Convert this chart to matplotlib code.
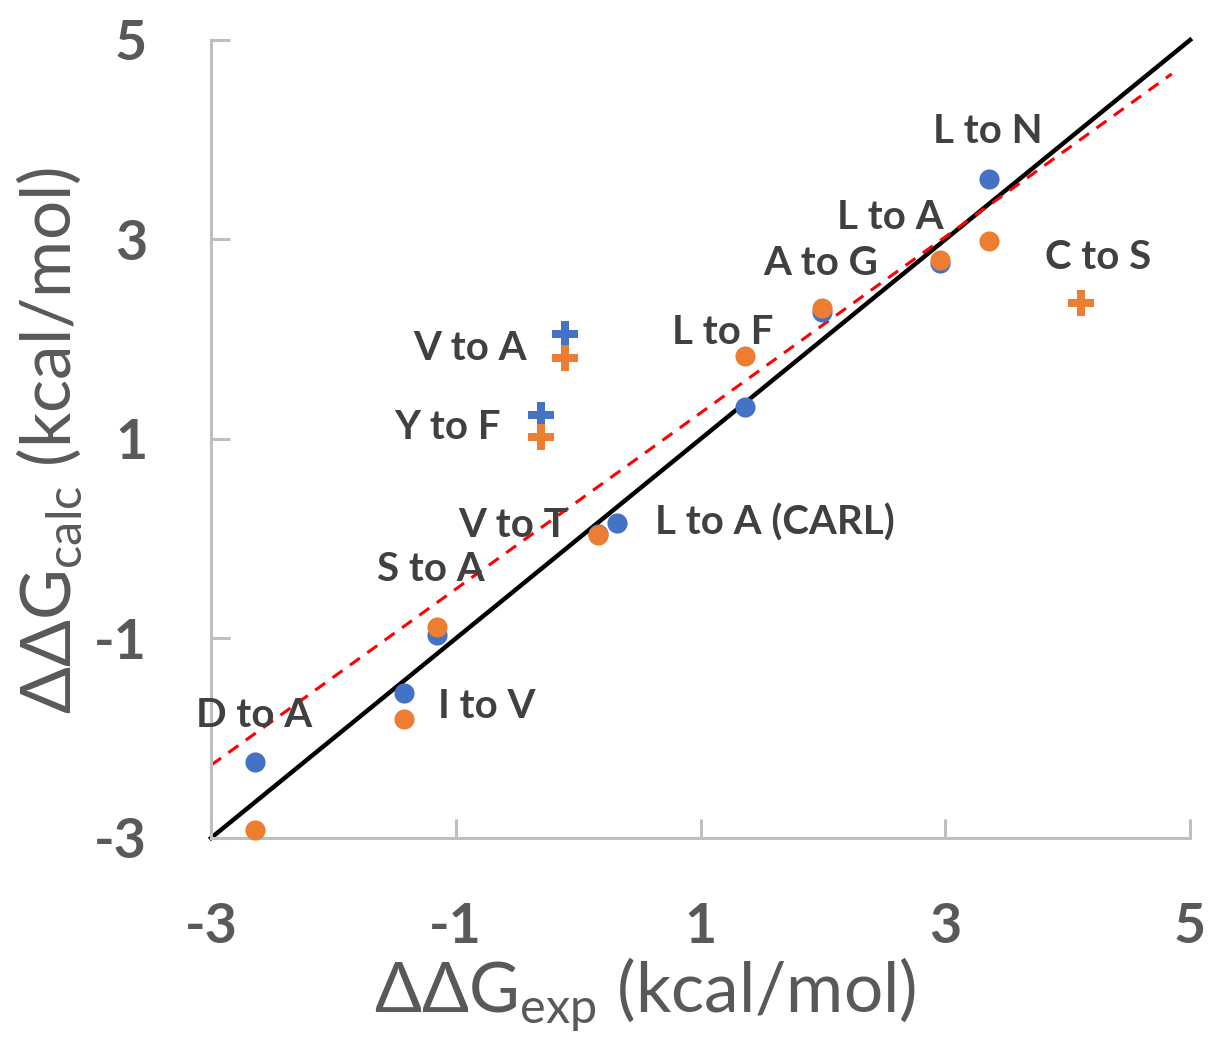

# ddG calculated vs experimental scatter
import matplotlib.pyplot as plt

plt.rcParams['font.family'] = ['Lato', 'DejaVu Sans']
plt.rcParams['mathtext.fontset'] = 'custom'
plt.rcParams['mathtext.rm'] = 'Lato'
plt.rcParams['axes.unicode_minus'] = False

BLUE = "#4472C4"
ORANGE = "#ED7D31"
GREY = "#595959"
DARK = "#404040"

# circle points (exp, calc blue, calc orange)
names = ["D to A", "I to V", "S to A", "V to T", "L to A (CARL)", "L to F",
         "A to G", "L to A", "L to N"]
exp_vals = [-2.64, -1.42, -1.15, 0.16, 0.32, 1.36, 1.99, 2.96, 3.36]
calc_blue = [-2.24, -1.55, -0.97, 0.05, 0.16, 1.32, 2.27, 2.76, 3.61]
calc_orange = [-2.92, -1.81, -0.88, 0.04, None, 1.83, 2.31, 2.79, 2.98]

# plus points
plus_exp = [-0.11, -0.30, 4.11]
plus_blue = [2.05, 1.24, None]
plus_orange = [1.81, 1.02, 2.36]

# label positions (data coords)
label_text = ["L to N", "L to A", "A to G", "C to S", "L to F", "V to A", "Y to F",
              "V to T", "L to A (CARL)", "S to A", "I to V", "D to A"]
label_x = [3.35, 2.55, 1.98, 4.25, 1.18, -0.88, -1.07, -0.53, 1.61, -1.20, -0.75, -2.65]
label_y = [4.08, 3.22, 2.76, 2.82, 2.07, 1.91, 1.11, 0.13, 0.16, -0.31, -1.68, -1.77]

# reference lines
ident_x = [-3, 5]
ident_y = [-3, 5]
fit_x = [-3, 4.85]
fit_y = [-2.27, 4.66]

fig = plt.figure(figsize=(12.08, 10.38), dpi=100)
ax = fig.add_axes([0.1747, 0.1927, 0.8105, 0.7688])

ax.plot(ident_x, ident_y, color="black", lw=3.2, zorder=2, clip_on=False)
ax.plot(fit_x, fit_y, color="#FF0000", lw=2.2, ls=(0, (4, 3)), zorder=2)

def keep(xs, ys):
    pairs = [(a, b) for a, b in zip(xs, ys) if b is not None]
    return [p[0] for p in pairs], [p[1] for p in pairs]

bx, by = keep(exp_vals, calc_blue)
ox, oy = keep(exp_vals, calc_orange)
ax.scatter(bx, by, s=210, color=BLUE, zorder=3, clip_on=False, linewidths=0)
ax.scatter(ox, oy, s=210, color=ORANGE, zorder=4, clip_on=False, linewidths=0)

pbx, pby = keep(plus_exp, plus_blue)
pox, poy = keep(plus_exp, plus_orange)
ax.scatter(pbx, pby, s=360, marker="P", color=BLUE, zorder=3, linewidths=0)
ax.scatter(pox, poy, s=360, marker="P", color=ORANGE, zorder=4, linewidths=0)

for t, x, y in zip(label_text, label_x, label_y):
    ax.text(x, y, t, ha="center", va="center", fontsize=29, fontweight="bold",
            color=DARK, zorder=5)

ax.set_xlim(-3, 5)
ax.set_ylim(-3, 5)
ax.set_xticks([-3, -1, 1, 3, 5])
ax.set_yticks([-3, -1, 1, 3, 5])
for s in ["top", "right"]:
    ax.spines[s].set_visible(False)
for s in ["left", "bottom"]:
    ax.spines[s].set_color("#BFBFBF")
    ax.spines[s].set_linewidth(2.2)
ax.tick_params(direction="in", length=14, width=2.2, color="#BFBFBF",
               labelsize=40, labelcolor=GREY, pad=46)
for lab in ax.get_xticklabels() + ax.get_yticklabels():
    lab.set_fontweight("bold")

fig.text(0.534, 0.041, r"ΔΔG$_{\mathregular{exp}}$ (kcal/mol)", ha="center", va="center",
         fontsize=50, color=GREY)
fig.text(0.041, 0.576, r"ΔΔG$_{\mathregular{calc}}$ (kcal/mol)", ha="center", va="center",
         fontsize=50, color=GREY, rotation=90)

fig.savefig("out.png", dpi=100)
